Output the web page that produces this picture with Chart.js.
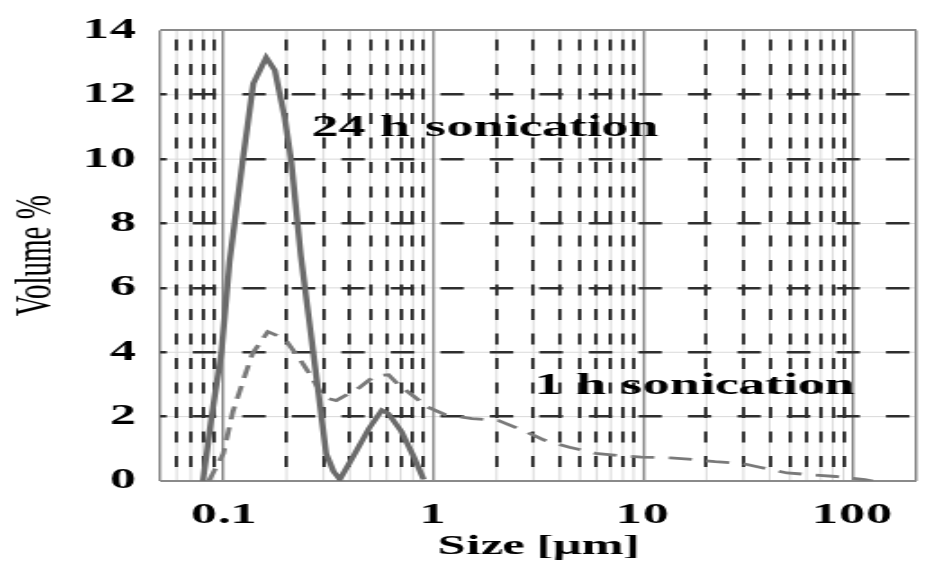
<!DOCTYPE html>
<html><head><meta charset="utf-8">
<script src="https://cdn.jsdelivr.net/npm/chart.js@4.4.1/dist/chart.umd.min.js"></script>
<style>
@font-face{font-family:'LSerifBold';font-weight:700;src:local('Liberation Serif Bold'),local('LiberationSerif-Bold');}
html,body{margin:0;padding:0;background:#fff;overflow:hidden;width:947px;height:575px;}
#wrap{position:absolute;left:0;top:0;width:526px;height:575px;transform:scaleX(1.80038);transform-origin:0 0;}
</style></head><body>
<div id="wrap"><canvas id="c"></canvas></div>
<script>
// ---- data ----
const sizes24h  = [0.080, 0.088, 0.098, 0.107, 0.124, 0.139, 0.160, 0.176, 0.196, 0.211, 0.234, 0.261, 0.309, 0.335, 0.359, 0.413, 0.495, 0.569, 0.61, 0.703, 0.81, 0.90];
const volume24h = [0, 2.0, 4.0, 6.8, 10.0, 12.35, 13.16, 12.76, 11.3, 9.9, 7.0, 4.6, 0.85, 0.3, 0.05, 0.73, 1.64, 2.2, 2.1, 1.55, 0.73, 0.05];
const sizes1h   = [0.0853, 0.100, 0.111, 0.128, 0.138, 0.163, 0.196, 0.235, 0.261, 0.300, 0.345, 0.445, 0.527, 0.612, 0.681, 0.783, 0.938, 1.14, 1.53, 2.04, 2.72, 3.37, 4.45, 5.93, 7.58, 9.8, 13.5, 17.2, 22.0, 29.4, 36.3, 48.4, 61.9, 82.6, 113.6, 124];
const volume1h  = [0, 0.85, 2.15, 3.36, 3.97, 4.64, 4.42, 3.72, 3.27, 2.6, 2.5, 2.9, 3.27, 3.3, 3.0, 2.7, 2.3, 2.06, 1.94, 1.88, 1.55, 1.27, 1.05, 0.86, 0.79, 0.74, 0.72, 0.67, 0.6, 0.55, 0.42, 0.25, 0.2, 0.14, 0.04, 0];
const seriesNames = ['24 h sonication', '1 h sonication'];
const xGridValues = [0.05,0.06,0.07,0.08,0.09,0.1,0.2,0.3,0.4,0.5,0.6,0.7,0.8,0.9,1,2,3,4,5,6,7,8,9,10,20,30,40,50,60,70,80,90,100,200];
const xTickLabels = [0.1, 1, 10, 100];
const yTickValues = [0, 2, 4, 6, 8, 10, 12, 14];
const xTitle = 'Size [µm]';
const yTitle = 'Volume %';
// label anchors in data units (x size, y volume)
const labelSizes = [0.264, 3.06];
const labelVolumes = [10.73, 2.7];

const serif = "'LSerifBold', 'Liberation Serif', 'Times New Roman', serif";
const serifReg = "'Liberation Serif', 'Times New Roman', serif";
const X_MIN = 0.05, X_MAX = 200, Y_MIN = 0, Y_MAX = 14;
const isXMajor = v => v === X_MIN || v === X_MAX || xTickLabels.includes(v);
const isYMajor = v => v === Y_MIN || v === Y_MAX;

// faint light-grey solid lines that sit under every grid line
const faintGrid = {
  id: 'faintGrid',
  beforeDraw(chart) {
    const {ctx, chartArea: a, scales} = chart;
    ctx.save();
    ctx.strokeStyle = '#d9d9d9';
    ctx.lineWidth = 1;
    ctx.beginPath();
    scales.x.ticks.forEach(t => { const p = scales.x.getPixelForValue(t.value); ctx.moveTo(p, a.top); ctx.lineTo(p, a.bottom); });
    scales.y.ticks.forEach(t => { const p = scales.y.getPixelForValue(t.value); ctx.moveTo(a.left, p); ctx.lineTo(a.right, p); });
    ctx.stroke();
    ctx.restore();
  }
};

const labelPlugin = {
  id: 'seriesLabels',
  afterDatasetsDraw(chart) {
    const {ctx, scales} = chart;
    ctx.save();
    ctx.font = 'bold 30px ' + serif;
    ctx.fillStyle = '#000';
    ctx.textAlign = 'left';
    ctx.textBaseline = 'alphabetic';
    seriesNames.forEach((name, i) => {
      ctx.fillText(name, scales.x.getPixelForValue(labelSizes[i]), scales.y.getPixelForValue(labelVolumes[i]));
    });
    ctx.restore();
  }
};

function build() {
new Chart(document.getElementById('c'), {
  type: 'line',
  data: {
    datasets: [
      {
        label: seriesNames[0],
        data: sizes24h.map((x, i) => ({x, y: volume24h[i]})),
        borderColor: '#6b6b6b', borderWidth: 3.4, pointRadius: 0, tension: 0, fill: false
      },
      {
        label: seriesNames[1],
        data: sizes1h.map((x, i) => ({x, y: volume1h[i]})),
        borderColor: '#7a7a7a', borderWidth: 2.8, borderDash: [13, 8], pointRadius: 0, tension: 0, fill: false
      }
    ]
  },
  options: {
    responsive: true, maintainAspectRatio: false, animation: false,
    layout: {padding: {top: 19, right: 2.7, left: 0, bottom: 0}},
    plugins: {legend: {display: false}, tooltip: {enabled: false}},
    events: [],
    scales: {
      x: {
        type: 'logarithmic', min: X_MIN, max: X_MAX,
        afterBuildTicks: s => { s.ticks = xGridValues.map(v => ({value: v})); },
        afterFit: s => { s.height = 94; },
        ticks: {
          autoSkip: false, maxRotation: 0, minRotation: 0, padding: 17, color: '#000',
          font: {family: serif, size: 29, weight: 'bold', lineHeight: 1.2},
          callback: v => xTickLabels.includes(v) ? String(v) : ''
        },
        grid: {
          drawTicks: false,
          color: c => (c.tick && !isXMajor(c.tick.value)) ? '#2e2e2e' : '#8a8a8a',
          lineWidth: c => (c.tick && !isXMajor(c.tick.value)) ? 1.9 : 1.4
        },
        border: {
          display: false,
          dash: c => (c.tick && !isXMajor(c.tick.value)) ? [11, 13.5] : [],
          dashOffset: 15.5
        },
        title: {display: true, text: xTitle, color: '#000', padding: {top: 0, bottom: 11},
          font: {family: serif, size: 28, weight: 'bold', lineHeight: 1.2}}
      },
      y: {
        type: 'linear', min: Y_MIN, max: Y_MAX,
        afterBuildTicks: s => { s.ticks = yTickValues.map(v => ({value: v})); },
        afterFit: s => { s.width = 88.9; },
        ticks: {padding: 13, color: '#000', font: {family: serif, size: 29, weight: 'bold'}},
        grid: {
          drawTicks: false,
          color: c => (c.tick && !isYMajor(c.tick.value)) ? '#2e2e2e' : '#8a8a8a',
          lineWidth: c => (c.tick && !isYMajor(c.tick.value)) ? 2.6 : 2
        },
        border: {
          display: false,
          dash: c => (c.tick && !isYMajor(c.tick.value)) ? [13, 14.5] : [],
          dashOffset: 9.4
        },
        title: {display: true, text: yTitle, color: '#000', padding: {top: 3, bottom: 0},
          font: {family: serifReg, size: 29, weight: 'normal', lineHeight: 1.2}}
      }
    }
  },
  plugins: [faintGrid, labelPlugin]
});
}
document.fonts.load("bold 30px 'LSerifBold'").then(build, build);
</script>
</body></html>
